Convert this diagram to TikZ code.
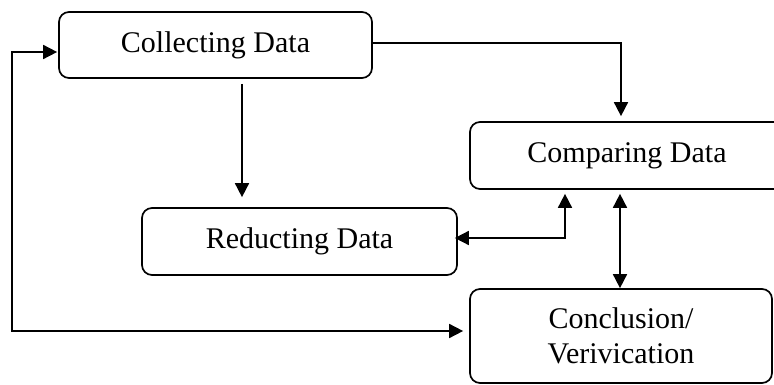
\documentclass[tikz,border=0pt]{standalone}
\usepackage{fontspec}
\setmainfont{Liberation Serif}
\usetikzlibrary{arrows.meta,calc}
\begin{document}
\begin{tikzpicture}[x=1pt,y=-1pt,
  box/.style={draw,line width=1.7pt,rounded corners=10pt,inner sep=0pt,align=center,
    font=\fontsize{30}{35}\selectfont},
  conn/.style={line width=1.7pt,-{Triangle[length=14pt,width=14pt]}},
  conn2/.style={line width=1.7pt,{Triangle[length=14pt,width=14pt]}-{Triangle[length=14pt,width=14pt]}}]
\useasboundingbox (0,0) rectangle (774,385);
\clip (0,0) rectangle (774,385);
\node[box,minimum width=313pt,minimum height=66pt] (col) at (215.5,45) {Collecting Data};
\node[box,minimum width=314pt,minimum height=67pt] (cmp) at (627,155.5) {Comparing Data};
\node[box,minimum width=315pt,minimum height=67pt] (red) at (299.5,241.5) {Reducting Data};
\node[box,minimum width=302pt,minimum height=94pt] (con) at (621,336) {Conclusion/\\Verivication};
\coordinate (lft) at (12,0);
% Collecting -> Comparing
\draw[conn] ($(col.east)+(0,-2)$) -| ($(cmp.north)+(-6,-5)$);
% Collecting -> Reducting
\coordinate (s) at ($(col.south)+(26.5,5)$);
\draw[conn] (s) -- ($(s |- red.north)+(0,-10)$);
% Reducting <-> Comparing
\draw[conn2] ($(red.east)+(-3,-3.5)$) -| ($(cmp.south)+(-62,4)$);
% Comparing <-> Conclusion
\coordinate (t) at ($(cmp.south)+(-7,4)$);
\draw[conn2] (t) -- (t |- con.north);
% Conclusion <-> Collecting
\coordinate (a) at ($(con.west)+(-6,-5)$);
\coordinate (b) at ($(col.west)+(-1,7)$);
\draw[conn2] (a) -- (a -| lft) |- (b);
\end{tikzpicture}
\end{document}
